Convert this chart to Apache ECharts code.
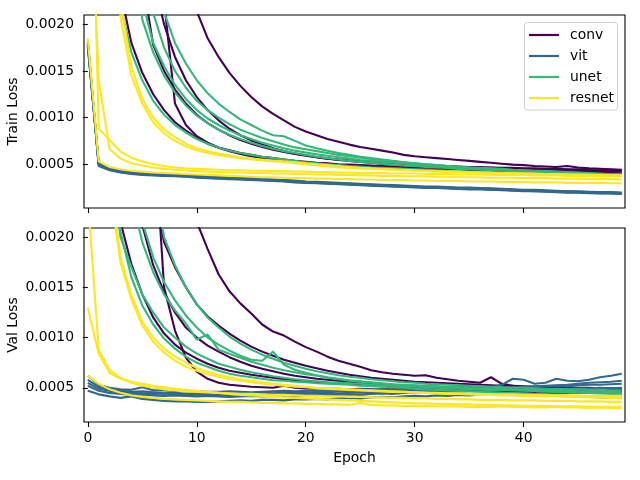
<!DOCTYPE html>
<html><head><meta charset="utf-8">
<script src="https://cdn.jsdelivr.net/npm/echarts@6/dist/echarts.min.js"></script>
<style>html,body{margin:0;padding:0;background:#fff}#c{width:640px;height:480px}</style>
</head><body><div id="c"></div>
<script>
const epochs = [0,1,2,3,4,5,6,7,8,9,10,11,12,13,14,15,16,17,18,19,20,21,22,23,24,25,26,27,28,29,30,31,32,33,34,35,36,37,38,39,40,41,42,43,44,45,46,47,48,49];
const models = ['conv','vit','unet','resnet'];
const modelColors = ['#440154','#31688e','#35b779','#fde725'];
const xTickValues = [0,10,20,30,40];
// losses below (and y ticks) are in units of 1e-5
const yTickValues = [50,100,150,200];
const trainConv = [
 [900,800,700,600,520,450,390,340,295,255, 214,185,165,148,134,122,112,104,97,90, 85,81,77,74,71,68.5,66.5,64.5,62.5,60, 58.5,57.5,56.5,55.5,54.5,53.5,52.5,51.5,50.5,49.5, 49,48,47.5,47,48,46.5,45.5,45,44.5,44],
 [3000,2800,2600,2400,2200,2000,1500,225,115,92, 80,73,68,65,62,60,58,56.5,55,53.5, 52.5,51.5,51,50,49.5,49,48.5,48,47.5,47, 46.5,46.5,46,46,45.5,45.5,45,45,44.5,44.5, 44,44,43.5,43.5,43,43,42.5,42.5,42,42],
 [1200,800,500,235,180,148,125,108,95,86, 78,72,67.5,64,61,58.5,56.5,55,53.5,52, 51,50,49,48,47.5,47,46.5,46,45.5,45, 44.5,44.5,44,44,43.5,43.5,43,43,42.5,42.5, 42,42,41.5,41.5,41,41,41,40.5,40.5,40],
 [1500,1100,800,550,350,250,178,150,130,115, 103,94,87,81,76,72,68.5,65.5,63,61, 59,57.5,56,55,54,53,52,51,50.5,50, 49.5,49,48.5,48,47.5,47,47,46.5,46,46, 45.5,45.5,45,45,44.5,44.5,44,44,44,43.5],
 [1800,1400,1000,700,480,340,250,200,165,140, 122,108,97,88,81,75.5,71,67,64,61.5, 59.5,57.5,56,54.5,53.5,52.5,51.5,50.5,50,49.5, 49,48.5,48,47.5,47,46.5,46,46,45.5,45, 45,44.5,44.5,44,44,43.5,43.5,43,43,43]
];
const trainVit = [
 [178,50,45,42,41,40,39,38.5,38,37.5, 37,36.5,36,35.5,35,34,33.5,33,32.5,32, 31,30.5,30,29.5,29,28.5,28,27.5,27,26.5, 26,25.5,25.5,25,24.5,24,24,23.5,23,22.5, 22,22,21.5,21,21,20.5,20,20,19.5,19],
 [182,49,44,41.5,40,39,38.5,38,37.5,37, 36,35.5,35,34.5,34,33.5,33,32.5,32,31, 30.5,30,29.5,29,28.5,28,27.5,27,26.5,26, 25.5,25,25,24.5,24,23.5,23.5,23,22.5,22, 21.5,21,21,20.5,20,20,19.5,19,19,18.5],
 [176,51,45.5,43,41.5,40.5,39.5,39,38.5,38, 37.5,37,36.5,36,35.5,35,34,33.5,33,32.5, 31.5,31,30.5,30,29.5,29,28.5,28,27.5,27, 26.5,26,26,25.5,25,25,24.5,24,23.5,23, 22.5,22.5,22,21.5,21,21,20.5,20,20,19.5],
 [180,48,43.5,41,39.5,38.5,38,37.5,37,36.5, 35.5,35,34.5,34,33.5,33,32.5,32,31.5,30.5, 30,29.5,29,28.5,28,27.5,27,26.5,26,25.5, 25,24.5,24.5,24,23.5,23,23,22.5,22,21.5, 21,21,20.5,20,19.5,19.5,19,18.5,18.5,18],
 [179,50,44.5,42,40.5,39.5,39,38,37.5,37, 36.5,36,35.5,35,34.5,33.5,33,32.5,32,31.5, 30.5,30,29.5,29,28.5,28,27.5,27,26.5,26, 25.5,25.5,25,24.5,24,24,23.5,23,22.5,22, 22,21.5,21,20.5,20.5,20,19.5,19.5,19,18.5]
];
const trainUnet = [
 [1400,900,550,220,170,140,118,103,92,84, 77,72,68,64.5,62,60,58,56.5,55,53.5, 52,51,50,49,48,47.5,46.5,46,45.5,45, 44.5,44,43.5,43,42.5,42,41.5,41,41,40.5, 40,40,39.5,39,39,38.5,38.5,38,38,37.5],
 [1500,1100,700,450,290,205,170,145,127,113, 102,94,87,81.5,77,73,69.5,66.5,64,62, 60,58,56.5,55,53.5,52.5,51.5,50.5,49.5,48.5, 48,47,46.5,46,45,44.5,44,43.5,43,42.5, 42,41.5,41,40.5,40,40,39.5,39,38.5,38],
 [1600,1200,800,500,320,225,180,155,135,120, 108,99,92,86,81,77,73,70,67,64.5, 62.5,60.5,59,57.5,56,54.5,53.5,52.5,51.5,50.5, 49.5,48.5,48,47,46.5,45.5,45,44.5,44,43.5, 43,42.5,42,41.5,41,40.5,40,39.5,39,39],
 [2000,1500,1100,800,550,380,275,213,180,158, 140,126,115,106,98,92,86,81,80,75, 70,67,64.5,62,60,58,56.5,55,53.5,52, 51,50,49,48,47,46.5,45.5,45,44.5,43.5, 43,42.5,42,41.5,41,40.5,40,39.5,39,38.5],
 [1800,1300,900,600,400,280,212,175,150,132, 118,108,100,93,87,82.5,78,74.5,71,68, 66,64,62,60,58.5,57,55.5,54,53,52, 51,50,49,48,47.5,46.5,46,45.5,45,44, 43.5,43,42.5,42,41.5,41,40.5,40,39.5,39]
];
const trainResnet = [
 [185,53,47,44.5,43,42,41,40.5,40,39.5, 39,38.5,38,37.5,37,36.5,36,36,35.5,35, 35,34.5,34.5,34,34,33.5,33.5,33,33,33, 32.5,32.5,32,32,32,31.5,31.5,31.5,31,31, 31,30.5,30.5,30.5,30,30,30,30,29.5,29.5],
 [560,88,76,63.5,57,53,50,48,46.5,45.5, 45,44.5,44,43.5,43.5,43,43,42.5,42.5,42, 42,41.5,41.5,41,41,40.5,40.5,40.5,40,40, 40,39.5,39.5,39.5,39,39,39,38.5,38.5,38.5, 38.5,38,38,38,37.5,37.5,37.5,37,37,37],
 [420,140,66,56,51,48.5,46.5,45,44,43, 42.5,42,41.5,41,41,40.5,40.5,40,40,39.5, 39.5,39,39,38.5,38.5,38,38,37.5,37.5,37, 37,37,36.5,36.5,36,36,36,35.5,35.5,35.5, 35,35,35,34.5,34.5,34.5,34,34,34,33.5],
 [1500,900,450,208,145,115,95,83,75,69, 65,62,60,58,56.5,55,54,53,52,51, 50,48.5,47.5,46.5,46,45.5,45,44.5,44,43.5, 43,42.5,42,42,41.5,41,41,40.5,40.5,40, 40,39.5,39.5,39,39,38.5,38.5,38,38,38],
 [1600,1000,500,225,155,120,100,87,79,72, 67,64,61.5,59.5,57.5,56,55,54,53,52, 51,50,49,48,47,46,45.5,45,44.5,44, 43.5,43,42.5,42,42,41.5,41,41,40.5,40.5, 40,40,39.5,39.5,39,39,38.5,38.5,38,38]
];
const valConv = [
 [1000,900,800,700,600,500,420,350,290,245, 215,188,163,146,134,124,113,106,102,96, 90.5,86,81,77,74,71,67.5,65.5,64,63, 62,62.5,60,58.5,57,56,55,60.5,54,52, 50.5,50.5,50,49.5,50,49.5,49,49.5,49,49],
 [3000,2800,2600,2400,2000,1500,320,150,107,80, 66,59,55,53,52,51,50.5,50,52,50, 49.5,49.5,49,49,48.5,49,48.5,48,48.5,48, 47.5,48,47.5,47,47.5,47,47,46.5,47,46.5, 46.5,46,46.5,46,46,45.5,46,45.5,45.5,45],
 [1200,800,450,215,173,143,120,104,93,85, 79,74,70,67,65,63,61.5,60,58.5,57.5, 56.5,55.5,55,54.5,54,53.5,53,52.5,52,51.5, 51,51,50.5,50,50,49.5,49.5,49,49,48.5, 48.5,48,48,48,47.5,47.5,47.5,47,47,47],
 [1500,1000,700,450,300,212,172,145,125,110, 100,92,86,80.5,76,72,69,66.5,64,62, 60.5,59,58,57,56,55,54.5,53.5,53,52.5, 52,51.5,51,50.5,50.5,50,49.5,49.5,49,49, 48.5,48.5,48,48,48,47.5,47.5,47.5,47,47],
 [2000,1600,1200,900,600,400,250,195,170,150, 133,121,112,104,97,91,86,82,78,75, 72,69.5,67,65,63,61.5,60,59,58,57, 56,55.5,55,54.5,54,53.5,53,52.5,52,52, 51.5,51,51,50.5,50.5,50,50,49.5,49.5,49]
];
const valVit = [
 [62,53,50,48.5,48,50.5,47.5,47.5,47,46.5, 46.5,46,46,46.5,46,45.5,46,46.5,47,46.5, 47,47.5,47,48,47.5,48.5,48,49,48.5,49, 49.5,50,49.5,50.5,51,50.5,51.5,50.5,53,59, 58,54,55,59,57,56.5,58,60.5,62,64],
 [58,51,48,47,46,46.5,45.5,44.5,45,44, 44.5,44,43.5,44.5,44,44,45,44.5,45,45.5, 45,46,45.5,46.5,46,47,46.5,47.5,47,48, 47.5,48.5,48,49,48.5,49.5,49,50,50.5,50, 51,51.5,52,52.5,53,54,55,55.5,56,57],
 [55,49,47,45.5,45,44.5,44,44.5,43.5,43, 43.5,43,42.5,43,43.5,43,42.5,43,43.5,44, 43.5,44,44.5,44,45,45.5,45,46,46.5,46, 47,47.5,47,48,48.5,49,48.5,49.5,50,50.5, 50,51,51.5,52,51.5,52.5,53,53,53.5,54],
 [52,47,45,44,43,43.5,42.5,42,42.5,42, 41.5,42,41.5,41,41.5,42,41.5,42,42.5,42, 42.5,43,42.5,43,43.5,43,44,44.5,44,45, 45.5,45,46,46.5,46,47,47.5,47,47.5,48, 48,48.5,48,49,49,49.5,49.5,50,49.5,50],
 [47,43.5,41.5,40,41.5,39,38,37,36.5,36.5, 36,36,36.5,37,37.5,37,38,38,37.5,38.5, 38.5,39,38.5,39.5,40,39.5,40.5,41,40.5,41.5, 42,41.5,42.5,42,43,42.5,43.5,43,44,43.5, 44.5,44,45,44.5,45,45.5,45,46,45.5,46]
];
const valUnet = [
 [1400,800,300,200,170,143,125,110,100,91, 84,79,74,71,68,65.5,63.5,61.5,60,58.5, 57.5,56.5,55.5,55,54.5,54,53,52.5,52,51.5, 51,50.5,50,49.5,49.5,49,48.5,48,48,47.5, 47.5,47,46.5,46,46,45.5,45,44.5,44,43.5],
 [1600,1200,800,500,240,195,165,143,127,114, 98,103,88,84,80,76,73,70,67.5,65.5, 63.5,62,60,58.5,57,56,55,54,53,52.5, 52,51.5,51,50.5,50,49.5,49,48.5,48,48, 47.5,47,47,46.5,46,46,45.5,45,45,44.5],
 [1700,1300,900,600,350,215,180,155,137,122, 110,100,93,87,82,78,77,86,73,68, 65,62.5,60.5,59,57.5,56.5,55.5,54.5,53.5,53, 52.5,52,51.5,51,50.5,50,49.5,49.5,49,48.5, 48,48,47.5,47,47,46.5,46.5,46,46,45.5],
 [2200,1800,1400,1000,700,450,260,200,172,150, 133,120,110,101,94,88,83,79,75,72, 69,66.5,64.5,62.5,61,60,58.5,57.5,56.5,55.5, 55,54,53.5,53,52.5,52,51.5,51,50.5,50, 50,49.5,49,49,48.5,48.5,48,48,47.5,47.5],
 [1500,900,500,205,160,132,113,99,89,81, 75,71,67,64,62,60.5,59,57.5,57,56, 55.5,54.5,54,53.5,53,52,51.5,51,50.5,50, 49,48.5,48,47.5,47,46.5,46,45.5,45,44.5, 44,43.5,43,42.5,42,41.5,41,40.5,40,40]
];
const valResnet = [
 [130,84,65,59,56,54,52,50.5,49,48, 47,46,45,44,43,42.5,42,41,40.5,40, 39.5,39,38.5,38,37.5,37,36.5,36,35.5,35, 34.5,34.5,34,34,33.5,33.5,33,33,32.5,32.5, 32,32,32,31.5,31.5,31.5,31,31,31,31],
 [62,54,48.5,45,42.5,41,40,39,38.5,38, 37.5,37,36.5,36,36,35.5,35,35,34.5,34.5, 34,34,33.5,33.5,33,35,33,32.5,32.5,32, 32,32,31.5,31.5,31.5,31,31,31,31.5,31, 31,30.5,30.5,31,30.5,30.5,30,30.5,30,30],
 [240,88,68,60,55,52,50,48.5,47.5,46.5, 46,45.5,45,44.5,44,44,43.5,43,43,42.5, 42,42,41.5,41.5,41,41,40.5,40.5,40,40, 39.5,39.5,39,39,38.5,38.5,38,38,38,37.5, 37.5,37.5,37,37,37,36.5,36.5,36.5,36,36],
 [900,500,250,175,138,112,96,85,77,71, 67,63.5,61,58.5,57,55.5,54,53,52,51, 50.5,49.5,49,48.5,48,47.5,47,46.5,46,46, 45.5,45,45,44.5,44.5,44,44,43.5,43.5,43.5, 43,43,43,42.5,42.5,42.5,42,42,42,42],
 [1000,550,265,180,142,116,100,89,81,75, 70,66,63,60.5,58.5,57,55.5,54,53,52, 51,50,49.5,49,48.5,48,47.5,47,46.5,46, 45.5,45,44.5,44,44,43.5,43,43,42.5,42.5, 42,42,41.5,41.5,41,41,40.5,40.5,40,40]
];

const FONT = 'DejaVu Sans';
const FS = 13.9;
const sets = [
  {conv: trainConv, vit: trainVit, unet: trainUnet, resnet: trainResnet},
  {conv: valConv, vit: valVit, unet: valUnet, resnet: valResnet}
];
const series = [];
sets.forEach((s, g) => {
  models.forEach((m, k) => {
    s[m].forEach(run => {
      series.push({
        type: 'line', name: m, xAxisIndex: g, yAxisIndex: g,
        symbol: 'none', showSymbol: false, clip: true, silent: true,
        color: modelColors[k], itemStyle: {color: modelColors[k]},
        lineStyle: {width: 2.1, color: modelColors[k]},
        data: epochs.map((e, i) => [e, run[i]])
      });
    });
  });
});
const grids = [
  {left: 84, top: 15, width: 541, height: 193},
  {left: 84, top: 228, width: 541, height: 194}
].map(g => Object.assign(g, {show: true, borderColor: '#000', borderWidth: 1.1,
  backgroundColor: 'transparent', containLabel: false, outerBoundsMode: 'none'}));

function xAx(idx, labels, name) {
  return {
    type: 'value', gridIndex: idx, min: -0.35, max: 49.3,
    axisLine: {show: false}, splitLine: {show: false},
    axisTick: {show: true, customValues: xTickValues, length: 5, lineStyle: {color: '#000', width: 1.1}},
    axisLabel: {show: labels, customValues: xTickValues, margin: 9, color: '#000', fontFamily: FONT, fontSize: FS},
    name: name, nameLocation: 'middle', nameGap: 29, nameMoveOverlap: false,
    nameTextStyle: {color: '#000', fontFamily: FONT, fontSize: FS}
  };
}
function yAx(idx, mn, mx, name) {
  return {
    type: 'value', gridIndex: idx, min: mn, max: mx,
    axisLine: {show: false}, splitLine: {show: false},
    axisTick: {show: true, customValues: yTickValues, length: 5, lineStyle: {color: '#000', width: 1.1}},
    axisLabel: {customValues: yTickValues, margin: 10, color: '#000', fontFamily: FONT, fontSize: FS,
      formatter: v => (v / 1e5).toFixed(4)},
    name: name, nameLocation: 'middle', nameGap: 64, nameMoveOverlap: false,
    nameTextStyle: {color: '#000', fontFamily: FONT, fontSize: FS}
  };
}
const chart = echarts.init(document.getElementById('c'), null, {renderer: 'canvas'});
chart.setOption({
  animation: false,
  backgroundColor: '#fff',
  grid: grids,
  xAxis: [xAx(0, false, ''), xAx(1, true, 'Epoch')],
  yAxis: [yAx(0, 3, 210, 'Train Loss'), yAx(1, 16, 209, 'Val Loss')],
  graphic: [{
    type: 'rect', z: 50, silent: true,
    shape: {x: 524.5, y: 22.5, width: 93, height: 87.5, r: 3},
    style: {fill: 'rgba(255,255,255,0.8)', stroke: '#d0d0d0', lineWidth: 1}
  }],
  legend: {
    z: 60, data: models, orient: 'vertical', left: 524, top: 23,
    icon: 'rect', itemWidth: 30, itemHeight: 2.2, itemGap: 7,
    padding: [5, 5, 5, 5], borderWidth: 0, backgroundColor: 'transparent',
    textStyle: {fontFamily: FONT, fontSize: FS, color: '#000', padding: [0, 0, 0, 6], lineHeight: 14}
  },
  series: series
});
</script>
</body></html>
